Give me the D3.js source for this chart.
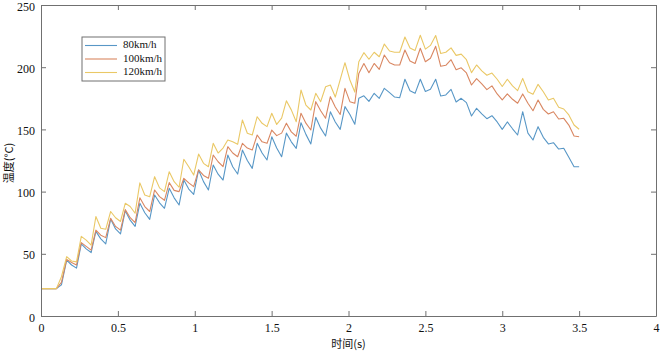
<!DOCTYPE html>
<html>
<head>
<meta charset="utf-8">
<script src="https://cdn.jsdelivr.net/npm/d3@7/dist/d3.min.js"></script>
<style>
  body { margin: 0; background: #fff; }
</style>
</head>
<body>
<div id="chart"></div>
<script>
// sample times (s)
const time = [0, 0.033, 0.067, 0.1, 0.133,
  0.167, 0.199, 0.231, 0.262, 0.294, 0.326, 0.357, 0.389, 0.421,
  0.453, 0.485, 0.517, 0.548, 0.580, 0.612, 0.643, 0.675, 0.707,
  0.739, 0.771, 0.803, 0.834, 0.866, 0.898, 0.929, 0.961, 0.993,
  1.025, 1.057, 1.089, 1.120, 1.152, 1.184, 1.215, 1.247, 1.279,
  1.310, 1.342, 1.374, 1.406, 1.438, 1.470, 1.501, 1.533, 1.565,
  1.596, 1.628, 1.660, 1.691, 1.723, 1.755, 1.787, 1.819, 1.851,
  1.882, 1.914, 1.946, 1.977, 2.009, 2.041,
  2.067, 2.1, 2.133, 2.167, 2.2, 2.233, 2.267, 2.3, 2.333,
  2.367, 2.4, 2.433, 2.467, 2.5, 2.533, 2.567, 2.6, 2.633, 2.667,
  2.7, 2.733, 2.767, 2.8, 2.833, 2.867, 2.9, 2.933, 2.967, 3.0,
  3.033, 3.067, 3.1, 3.133, 3.167, 3.2, 3.233, 3.267, 3.3, 3.333,
  3.367, 3.4, 3.433, 3.467, 3.5];

// temperature (°C) per speed
const temp80 = [22, 22, 22, 22, 25,
  45, 41, 38.5, 58, 54, 51, 68, 62, 58,
  78, 70, 66, 84.6, 77, 72, 90.6, 83, 77.7,
  97.3, 91, 86.6, 102.6, 95, 89.2, 109.3, 102, 97.8,
  117.4, 108, 101.3, 121.4, 114, 109.3, 129.4, 120, 114.1,
  133.4, 125, 118.7, 138.8, 131, 125.4, 144.1, 135, 128,
  147, 140, 134.8, 155.4, 146, 138.3, 159.7, 151, 144.7,
  164.2, 156, 150, 168.3, 162, 154.1,
  175, 177, 172.5, 179, 175, 183, 179.5, 176, 175.5,
  190.3, 181, 179, 190.3, 180.5, 182.2, 190.3, 176.8, 177.7, 182.2,
  172, 175, 171.5, 160.8, 167, 162.5, 158.6, 161, 156, 150,
  156, 150.5, 145.5, 164.2, 147, 141.5, 152.2, 143.6, 138.3, 139.3,
  134.2, 134.8, 127.6, 120, 120];

const temp100 = [22, 22, 22, 22, 27,
  45.5, 43, 41, 59, 56, 53, 69, 65, 63,
  78.5, 72, 69, 85.5, 79, 75, 95, 88, 84,
  101.3, 96, 93, 107.2, 101, 100, 110.7, 107, 104,
  117.4, 113, 110.7, 129.4, 124, 120, 136.1, 131, 128,
  138.8, 135, 133.4, 145.5, 140, 138.8, 149.5, 145, 147,
  155, 148, 144.5, 163, 155, 149.5, 172.3, 165, 159,
  176.3, 168, 162, 183, 172.3, 171,
  195, 203, 195.6, 203, 198.3, 209.8, 203.6, 201.8, 201.8,
  213.8, 205, 203, 215.2, 204.4, 207.2, 216.8, 200.7, 201.5, 206,
  198, 199.5, 195.4, 185.7, 190.8, 186.6, 182, 185, 178.5, 173.8,
  178.5, 174.2, 171, 178.5, 171, 165, 173.6, 166.1, 162.4, 164.2,
  158.4, 158.9, 153.5, 144.7, 144.1];

const temp120 = [22, 22, 22, 22, 31.6,
  47.7, 44.2, 43.5, 64, 61, 57, 80, 70.5, 69.7,
  84, 79, 76, 90.6, 88, 82.6, 107, 97.3, 95.9,
  112, 103, 100, 116, 108, 103.5, 126, 120, 113.3,
  130.2, 122.7, 120, 138.8, 131, 135, 141.5, 140, 138,
  157.6, 146.9, 145.5, 160.2, 154.9, 152.2, 163, 154, 159,
  173, 165.7, 156.2, 181.7, 169.6, 165.6, 179, 172.3, 184.3,
  185.7, 176, 190, 203.6, 189.7, 180,
  204.4, 211.7, 206.4, 212, 208.4, 218.6, 213, 212, 212,
  224.3, 215.5, 213.5, 225.7, 214.5, 217.5, 225.5, 211, 212, 215.5,
  209.5, 210.5, 206, 195.6, 201.8, 197, 193.5, 195.3, 190.3, 184.5,
  190.3, 185, 181.2, 191, 180.3, 178.2, 186.2, 180.3, 173.6, 175,
  167.8, 166.4, 161.6, 153.5, 150.1];

const seriesNames = ['80km/h', '100km/h', '120km/h'];
const seriesColors = ['#5897c6', '#d98762', '#eac866'];
const xTicks = [0, 0.5, 1, 1.5, 2, 2.5, 3, 3.5, 4];
const yTicks = [0, 50, 100, 150, 200, 250];

const width = 661, height = 352;
const margin = { top: 5, right: 5, bottom: 36, left: 41 };
const axisColor = '#707070';
const serif = '"Liberation Serif", "Times New Roman", serif';
const cjk = '"Noto Sans CJK SC", sans-serif';

const svg = d3.select('#chart')
    .append('svg')
    .attr('width', width)
    .attr('height', height);

const xScale = d3.scaleLinear()
    .domain([0, 4])
    .range([margin.left, width - margin.right]);

const yScale = d3.scaleLinear()
    .domain([0, 250])
    .range([height - margin.bottom, margin.top]);

const series = [temp80, temp100, temp120].map((vals, i) => ({
    name: seriesNames[i],
    color: seriesColors[i],
    points: time.map((t, j) => ({ t, v: vals[j] }))
}));

const line = d3.line()
    .x(d => xScale(d.t))
    .y(d => yScale(d.v));

// lines
svg.append('g')
    .selectAll('path')
    .data(series)
    .enter().append('path')
    .attr('fill', 'none')
    .attr('stroke', d => d.color)
    .attr('stroke-width', 1.1)
    .attr('stroke-linejoin', 'round')
    .attr('d', d => line(d.points));

function styleAxis(g) {
    g.select('.domain').attr('stroke', axisColor).attr('stroke-width', 1);
    g.selectAll('.tick line').attr('stroke', axisColor);
    g.selectAll('.tick text')
        .style('font-family', serif)
        .style('font-size', '12px')
        .style('fill', '#111');
}

// bottom / left with labels, ticks pointing inward
svg.append('g')
    .attr('transform', `translate(0,${height - margin.bottom})`)
    .call(d3.axisBottom(xScale).tickValues(xTicks).tickFormat(d3.format('')).tickSizeInner(-5).tickSizeOuter(0).tickPadding(7))
    .call(styleAxis);

svg.append('g')
    .attr('transform', `translate(${margin.left},0)`)
    .call(d3.axisLeft(yScale).tickValues(yTicks).tickSizeInner(-5).tickSizeOuter(0).tickPadding(6))
    .call(styleAxis)
    .call(g => g.selectAll('.tick text').attr('dy', '0.42em'));

// top / right box edges
svg.append('g')
    .attr('transform', `translate(0,${margin.top})`)
    .call(d3.axisTop(xScale).tickValues(xTicks).tickFormat('').tickSizeInner(-5).tickSizeOuter(0))
    .call(styleAxis);

svg.append('g')
    .attr('transform', `translate(${width - margin.right},0)`)
    .call(d3.axisRight(yScale).tickValues(yTicks).tickFormat('').tickSizeInner(-5).tickSizeOuter(0))
    .call(styleAxis);

// axis titles
svg.append('text')
    .attr('x', xScale(2))
    .attr('y', 345)
    .attr('text-anchor', 'middle')
    .attr('dominant-baseline', 'middle')
    .style('font-family', cjk)
    .style('font-size', '11px')
    .style('fill', '#111')
    .text('时间(s)');

svg.append('text')
    .attr('transform', `translate(10,${yScale(123)}) rotate(-90)`)
    .attr('text-anchor', 'middle')
    .attr('dominant-baseline', 'middle')
    .style('font-family', cjk)
    .style('font-size', '11px')
    .style('fill', '#111')
    .text('温度(°C)');

// legend
const legend = svg.append('g').attr('transform', 'translate(82,37)');
legend.append('rect')
    .attr('width', 83)
    .attr('height', 44)
    .attr('fill', '#fff')
    .attr('stroke', axisColor)
    .attr('stroke-width', 1);

const item = legend.selectAll('g.item')
    .data(series)
    .enter().append('g')
    .attr('class', 'item')
    .attr('transform', (d, i) => `translate(0,${8.5 + i * 13.5})`);

item.append('line')
    .attr('x1', 3)
    .attr('x2', 35)
    .attr('stroke', d => d.color)
    .attr('stroke-width', 1.1);

item.append('text')
    .attr('x', 41)
    .attr('dominant-baseline', 'middle')
    .style('font-family', serif)
    .style('font-size', '11px')
    .style('fill', '#111')
    .text(d => d.name);
</script>
</body>
</html>
